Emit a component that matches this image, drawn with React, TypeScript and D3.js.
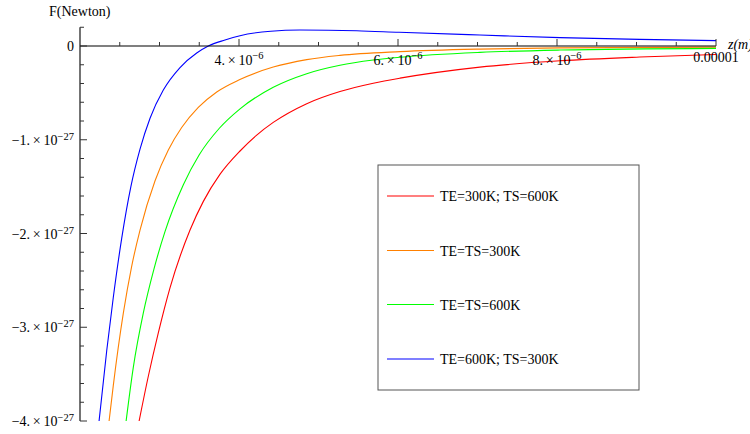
import React from 'react';
import * as d3 from 'd3';

// x in units of 1e-6 m, y in units of 1e-27 N
const seriesNames = ['TE=300K; TS=600K', 'TE=TS=300K', 'TE=TS=600K', 'TE=600K; TS=300K'];
const seriesColors = ['#ff0000', '#ff8000', '#00ff00', '#0000ff'];

const redX = [2.742, 2.86, 2.985, 3.132, 3.384, 3.55, 3.76, 4.013, 4.223, 4.431, 4.852, 5.27, 5.689, 6.025, 7.03, 8.038, 9.04, 10];
const redY = [-4.007, -3.52, -3.06, -2.58, -1.963, -1.66, -1.37, -1.12, -0.95, -0.815, -0.615, -0.485, -0.397, -0.343, -0.225, -0.158, -0.118, -0.09];

const orangeX = [2.365, 2.419, 2.545, 2.65, 2.755, 2.943, 3.111, 3.279, 3.488, 3.72, 4.004, 4.431, 4.852, 5.27, 6.025, 7.03, 8.038, 10];
const orangeY = [-4.007, -3.62, -2.85, -2.35, -1.963, -1.44, -1.11, -0.87, -0.655, -0.49, -0.36, -0.225, -0.145, -0.1, -0.06, -0.033, -0.02, -0.012];

const greenX = [2.579, 2.67, 2.796, 2.93, 3.069, 3.3, 3.5, 3.75, 4.013, 4.431, 4.852, 5.27, 5.689, 6.025, 7.03, 8.038, 10];
const greenY = [-4.007, -3.43, -2.85, -2.38, -1.98, -1.48, -1.16, -0.88, -0.67, -0.44, -0.295, -0.205, -0.15, -0.12, -0.068, -0.043, -0.025];

const blueX = [2.239, 2.336, 2.419, 2.525, 2.64, 2.755, 2.881, 3.048, 3.258, 3.468, 3.614, 3.824, 4.013, 4.4, 4.767, 5.48, 6.013, 7.03, 8.038, 9.04, 10];
const blueY = [-4.007, -3.25, -2.68, -2.05, -1.5, -1.1, -0.77, -0.47, -0.23, -0.075, 0, 0.064, 0.11, 0.158, 0.171, 0.163, 0.146, 0.117, 0.089, 0.071, 0.057];

const seriesX = [redX, orangeX, greenX, blueX];
const seriesY = [redY, orangeY, greenY, blueY];

const xMajorTicks = [4, 6, 8, 10];
const xTickMain = ['4.\u2009×\u200910', '6.\u2009×\u200910', '8.\u2009×\u200910', '0.00001'];
const xTickExp = ['\u22126', '\u22126', '\u22126', ''];
const xMinorTicks = [2.5, 3, 3.5, 4.5, 5, 5.5, 6.5, 7, 7.5, 8.5, 9, 9.5];

const yMajorTicks = [0, -1, -2, -3, -4];
const yTickMain = ['0', '\u22121.\u2009×\u200910', '\u22122.\u2009×\u200910', '\u22123.\u2009×\u200910', '\u22124.\u2009×\u200910'];
const yTickExp = ['', '\u221227', '\u221227', '\u221227', '\u221227'];
const yMinorTicks = [0.2, -0.2, -0.4, -0.6, -0.8, -1.2, -1.4, -1.6, -1.8, -2.2, -2.4, -2.6, -2.8, -3.2, -3.4, -3.6, -3.8];

const FONT = '"Liberation Serif", "Times New Roman", serif';

export default function App() {
  const W = 750, H = 434;
  const x = d3.scaleLinear().domain([2, 10]).range([80, 716]);
  const y = d3.scaleLinear().domain([-4, 0.2]).range([421, 27.25]);
  const line = d3.line<[number, number]>().x(d => x(d[0])).y(d => y(d[1])).curve(d3.curveMonotoneX);

  const legendX = 378, legendY = 165, legendW = 261, legendH = 225;
  const legendRows = [31, 85.5, 139.5, 194];

  return (
    <svg width={W} height={H} style={{ position: 'absolute', left: 0, top: 0, background: '#fff' }} fontFamily={FONT}>
      <defs>
        <clipPath id="plotclip">
          <rect x={80} y={20} width={640} height={401} />
        </clipPath>
      </defs>
      <rect x={0} y={0} width={W} height={H} fill="#fff" />

      {/* curves */}
      <g clipPath="url(#plotclip)">
        {seriesX.map((xs, i) => (
          <path key={i} d={line(xs.map((v, j) => [v, seriesY[i][j]]) as [number, number][]) || ''}
            fill="none" stroke={seriesColors[i]} strokeWidth={1.1} />
        ))}
      </g>

      {/* axes */}
      <line x1={x(2)} x2={x(10)} y1={y(0)} y2={y(0)} stroke="#000" strokeWidth={1.1} />
      <line x1={x(2)} x2={x(2)} y1={y(0.2)} y2={y(-4)} stroke="#000" strokeWidth={1.1} />

      {xMajorTicks.map(v => (
        <line key={'xM' + v} x1={x(v)} x2={x(v)} y1={y(0)} y2={y(0) - 7} stroke="#333" strokeWidth={1} />
      ))}
      {xMinorTicks.map(v => (
        <line key={'xm' + v} x1={x(v)} x2={x(v)} y1={y(0)} y2={y(0) - 4} stroke="#333" strokeWidth={1} />
      ))}
      {yMajorTicks.map(v => (
        <line key={'yM' + v} x1={x(2)} x2={x(2) + 7} y1={y(v)} y2={y(v)} stroke="#333" strokeWidth={1} />
      ))}
      {yMinorTicks.map(v => (
        <line key={'ym' + v} x1={x(2)} x2={x(2) + 4} y1={y(v)} y2={y(v)} stroke="#333" strokeWidth={1} />
      ))}

      {xMajorTicks.map((v, i) => (
        <text key={'xl' + v} x={x(v)} y={xTickExp[i] ? y(0) + 19 : y(0) + 16} textAnchor="middle" fontSize={14} fill="#000">
          <tspan>{xTickMain[i]}</tspan>
          {xTickExp[i] ? <tspan dy={-6} fontSize={10.5}>{xTickExp[i]}</tspan> : null}
        </text>
      ))}
      {yMajorTicks.map((v, i) => (
        <text key={'yl' + v} x={74} y={y(v) + 5} textAnchor="end" fontSize={14} fill="#000">
          <tspan>{yTickMain[i]}</tspan>
          {yTickExp[i] ? <tspan dy={-5} fontSize={10.5}>{yTickExp[i]}</tspan> : null}
        </text>
      ))}

      <text x={49} y={16} fontSize={14} fill="#000">F(Newton)</text>
      <text x={728} y={49} fontSize={14} fontStyle="italic" fill="#000">z(m)</text>

      {/* legend */}
      <rect x={legendX} y={legendY} width={legendW} height={legendH} fill="#fff" stroke="#555" strokeWidth={1} />
      {seriesNames.map((name, i) => (
        <g key={name}>
          <line x1={legendX + 9} x2={legendX + 56} y1={legendY + legendRows[i]} y2={legendY + legendRows[i]}
            stroke={seriesColors[i]} strokeWidth={1.1} />
          <text x={legendX + 62} y={legendY + legendRows[i] + 5} fontSize={14} fill="#000">{name}</text>
        </g>
      ))}
    </svg>
  );
}
